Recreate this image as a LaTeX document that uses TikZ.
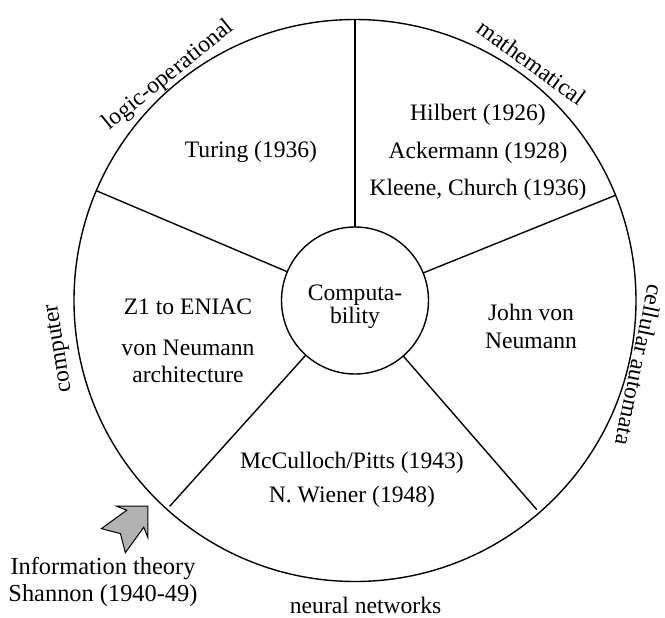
\documentclass[tikz,border=0pt]{standalone}
\usepackage{fontspec}
\setmainfont{Liberation Serif}
\usetikzlibrary{shapes.geometric, positioning}
\newcommand{\txtfont}{\fontsize{11.8}{13.6}\selectfont}
\newcommand{\infofont}{\fontsize{12.2}{13.7}\selectfont}
\tikzset{
  ringnode/.style={circle, draw=black, line width=0.7pt, minimum size=281pt,
                   inner sep=0pt, outer sep=0pt},
  hub/.style={circle, draw=black, line width=0.7pt, minimum size=73.5pt,
              inner sep=0pt, outer sep=0pt},
  hubtxt/.style={font=\txtfont, align=center, inner sep=0pt, yshift=-3.2pt},
  sectorlbl/.style={font=\txtfont, align=center, inner sep=0pt},
  arclbl/.style={font=\txtfont, inner sep=0pt},
  spokeln/.style={draw=black, line width=0.7pt},
  infoarrow/.style={draw=black, line width=0.5pt, fill=black!30, line join=miter},
}
\newcommand{\spokeline}[2][]{\draw[spokeln,#1] (hub.#2) -- (ring.#2);}

\begin{document}
\begin{tikzpicture}[x=0.5pt, y=0.5pt]
\useasboundingbox (-355,-316.5) rectangle (310,300.5);

\node[ringnode] (ring) at (0,0) {};
\node[hub, label={[hubtxt]center:{Computa-\\[-1.9pt]bility}}] (hub) at (0,0) {};

% spokes between the two circles
\foreach \a in {90,157.5,22.5}{
  \spokeline{\a}
}
\spokeline[shorten >=2pt]{228.5}
\spokeline[shorten >=2pt]{311.5}

% sector contents
\node[sectorlbl] (turing)  at (-104,149) {Turing (1936)};
\node[sectorlbl] (hilbert) at (123,148)
  {Hilbert (1926)\\[5.3pt]Ackermann (1928)\\[5.3pt]Kleene, Church (1936)};
\node[sectorlbl] (zuse)    at (-167,-40) {Z1 to ENIAC\\[6.9pt]von Neumann\\architecture};
\node[sectorlbl] (neumann) at (176,-26)  {John von\\Neumann};
\node[sectorlbl] (mcculloch) at (-3,-179) {McCulloch/Pitts (1943)\\[3.4pt]N. Wiener (1948)};

% labels round the rim
\node[arclbl, rotate=39]  (logic)    at (129.6:292)  {logic-operational};
\node[arclbl, rotate=-36] (math)     at (53.4:296.6) {mathematical};
\node[arclbl, rotate=-102] (cellular) at (-12.8:292) {cellular automata};
\node[arclbl, rotate=99]  (computer) at (189.2:299)  {computer};
\node[arclbl]             (neural)   at (-88:305)    {neural networks};

% information theory input
\node[sectorlbl, font=\infofont] (shannon) at (-252,-281.5)
  {Information theory\\Shannon (1940-49)};
\begin{scope}[shift={(-207,-205.5)}, rotate=45]
  \draw[infoarrow] (0,0) -- (-22.5,22.5) -- (-18,12) -- (-49,17) -- (-39,0)
    -- (-49,-17) -- (-18,-12) -- (-22.5,-22.5) -- cycle;
\end{scope}

\end{tikzpicture}
\end{document}
